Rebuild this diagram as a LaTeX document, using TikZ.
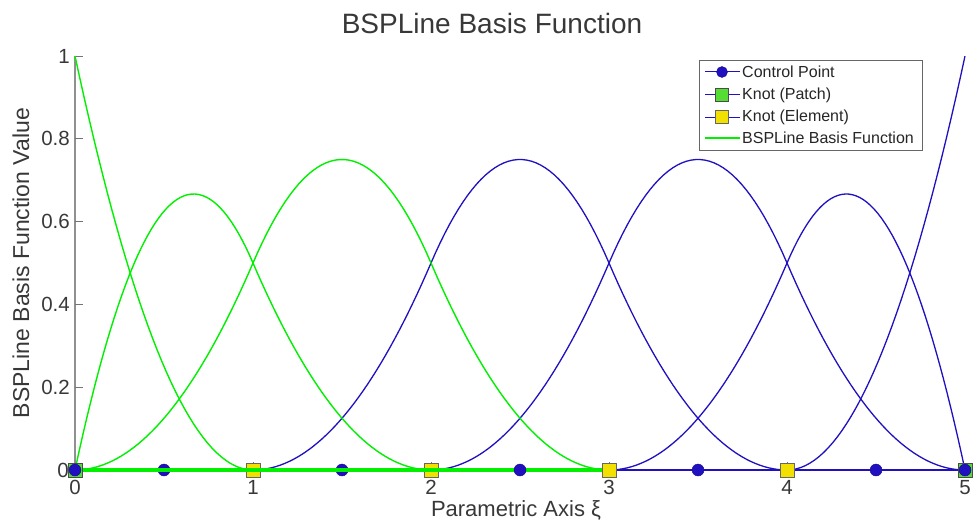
\documentclass[tikz,border=0pt]{standalone}
\usepackage{fontspec}
\setmainfont{Liberation Sans}
\definecolor{cblue}{HTML}{2010C0}
\definecolor{cgreen}{HTML}{00F000}
\definecolor{kpatch}{HTML}{55DD33}
\definecolor{kelem}{HTML}{F2E000}
\definecolor{txt}{HTML}{383838}
\definecolor{axisgray}{HTML}{909090}
\begin{document}
\begin{tikzpicture}[x=1pt,y=-1pt,
  bluecurve/.style={draw=cblue,line width=1.3pt},
  greencurve/.style={draw=cgreen,line width=1.4pt},
  cpmark/.style={circle,fill=cblue,draw=cblue!70!black,inner sep=0pt,minimum size=12pt},
  patchmark/.style={rectangle,fill=kpatch,draw=black!70,line width=0.6pt,inner sep=0pt,minimum size=14pt},
  elemmark/.style={rectangle,fill=kelem,draw=black!60,line width=0.6pt,inner sep=0pt,minimum size=14pt},
  ticklab/.style={text=txt,font=\fontsize{20.5}{22}\selectfont,inner sep=0pt},
  leglab/.style={text=black!85,font=\fontsize{16}{18}\selectfont,anchor=west,inner sep=0pt},
  ticksty/.style={draw=txt!70,line width=0.6pt}]
\useasboundingbox (0,0) rectangle (973,524);
% y axis
\draw[draw=axisgray,line width=1.2pt] (75,56) -- (75,470);
\foreach \v/\lab in {0/0,0.2/0.2,0.4/0.4,0.6/0.6,0.8/0.8,1/1}{
  \draw[ticksty] (75,{470-414*\v}) -- (83,{470-414*\v});
}
\foreach \t in {1,2,3,4}{
  \draw[ticksty] ({75+178*\t},470) -- ({75+178*\t},462);
}
% zero line (blue)
\draw[bluecurve] (75,470) -- (965,470);
% blue basis functions
\draw[bluecurve] plot[domain=1:2,samples=40] ({75+178*\x},{470-414*(0.5*(\x-1)^2)});
\draw[bluecurve] plot[domain=2:3,samples=40] ({75+178*\x},{470-414*(0.5*(-2*(\x-1)^2+6*(\x-1)-3))});
\draw[bluecurve] plot[domain=3:4,samples=40] ({75+178*\x},{470-414*(0.5*(4-\x)^2)});
\draw[bluecurve] plot[domain=2:3,samples=40] ({75+178*\x},{470-414*(0.5*(\x-2)^2)});
\draw[bluecurve] plot[domain=3:4,samples=40] ({75+178*\x},{470-414*(0.5*(-2*(\x-2)^2+6*(\x-2)-3))});
\draw[bluecurve] plot[domain=4:5,samples=40] ({75+178*\x},{470-414*(0.5*(5-\x)^2)});
\draw[bluecurve] plot[domain=3:4,samples=40] ({75+178*\x},{470-414*(0.5*(\x-3)^2)});
\draw[bluecurve] plot[domain=4:5,samples=50] ({75+178*\x},{470-414*(2*(5-\x)-1.5*(5-\x)^2)});
\draw[bluecurve] plot[domain=4:5,samples=40] ({75+178*\x},{470-414*((\x-4)^2)});
% green basis functions
\draw[greencurve] plot[domain=0:1,samples=40] ({75+178*\x},{470-414*((1-\x)^2)});
\draw[greencurve] plot[domain=0:1,samples=50] ({75+178*\x},{470-414*(2*\x-1.5*\x^2)});
\draw[greencurve] plot[domain=1:2,samples=40] ({75+178*\x},{470-414*(0.5*(2-\x)^2)});
\draw[greencurve] plot[domain=0:1,samples=40] ({75+178*\x},{470-414*(0.5*\x^2)});
\draw[greencurve] plot[domain=1:2,samples=40] ({75+178*\x},{470-414*(0.5*(-2*\x^2+6*\x-3))});
\draw[greencurve] plot[domain=2:3,samples=40] ({75+178*\x},{470-414*(0.5*(3-\x)^2)});
% markers under the thick line
\node[cpmark] (cp1) at ({75+178*0.5},470) {};
\node[cpmark] (cp2) at ({75+178*1.5},470) {};
\node[elemmark] (k1) at ({75+178*1},470) {};
\node[elemmark] (k2) at ({75+178*2},470) {};
% thick green zero line
\draw[draw=cgreen,line width=4pt] (75,470) -- ({75+178*3},470);
% markers on top
\node[elemmark] (k3) at ({75+178*3},470) {};
\node[elemmark] (k4) at ({75+178*4},470) {};
\node[patchmark] (k0) at (75,470) {};
\node[patchmark] (k5) at (965,470) {};
\node[cpmark] (cp0) at (75,470) {};
\node[cpmark] (cp3) at ({75+178*2.5},470) {};
\node[cpmark] (cp4) at ({75+178*3.5},470) {};
\node[cpmark] (cp5) at ({75+178*4.5},470) {};
\node[cpmark] (cp6) at (965,470) {};
% tick labels
\node[ticklab,anchor=east] (y0) at (69,470) {0};
\node[ticklab,anchor=east] (y2) at (70,{470-414*0.2}) {0.2};
\node[ticklab,anchor=east] (y4) at (70,{470-414*0.4}) {0.4};
\node[ticklab,anchor=east] (y6) at (70,{470-414*0.6}) {0.6};
\node[ticklab,anchor=east] (y8) at (70,{470-414*0.8}) {0.8};
\node[ticklab,anchor=east] (y10) at (70,56) {1};
\foreach \t in {0,1,2,3,4,5}{
  \node[ticklab,anchor=north] (x\t) at ({75+178*\t},480) {\t};
}
% labels
\node[text=txt,font=\fontsize{28}{32}\selectfont] (title) at (492,23) {BSPLine Basis Function};
\node[text=txt,font=\fontsize{22}{24}\selectfont] (xlab) at (516,510) {Parametric Axis ξ};
\node[text=txt,font=\fontsize{23}{25}\selectfont,rotate=90] (ylab) at (21,263) {BSPLine Basis Function Value};
% legend
\draw[draw=black!60,fill=white,line width=0.8pt] (699,60) rectangle (922,150);
\draw[draw=cblue,line width=1pt] (705,72) -- (740,72);
\node[cpmark,minimum size=11pt] (lg1) at (722,72) {};
\node[leglab] (lt1) at (742,72) {Control Point};
\draw[draw=cblue,line width=1pt] (705,95) -- (740,95);
\node[patchmark,minimum size=13pt] (lg2) at (722,95) {};
\node[leglab] (lt2) at (742,95) {Knot (Patch)};
\draw[draw=cblue,line width=1pt] (705,117) -- (740,117);
\node[elemmark,minimum size=13pt] (lg3) at (722,117) {};
\node[leglab] (lt3) at (742,117) {Knot (Element)};
\draw[draw=cgreen,line width=1.4pt] (705,138) -- (740,138);
\node[leglab] (lt4) at (742,138) {BSPLine Basis Function};
\end{tikzpicture}
\end{document}
